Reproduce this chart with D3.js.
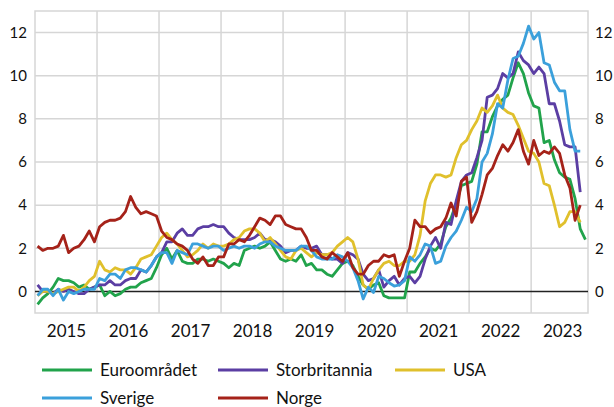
<!DOCTYPE html>
<html>
<head>
<meta charset="utf-8">
<script src="https://cdn.jsdelivr.net/npm/d3@7/dist/d3.min.js"></script>
<style>
  body { margin: 0; background: #fff; }
  svg { display: block; font-family: Lato, 'Open Sans', sans-serif; }
</style>
</head>
<body>
<div class="canvas"></div>
<script>
// monthly, Jan 2015 onwards (12-month change, per cent)
const yearLabels = ['2015','2016','2017','2018','2019','2020','2021','2022','2023'];
const yTicks = [0, 2, 4, 6, 8, 10, 12];

const euro = [
  -0.6,-0.3,-0.1,0.2,0.6,0.5,0.5,0.4,0.2,0.3,0.1,0.2,
  0.3,-0.2,0.0,-0.2,-0.1,0.1,0.2,0.2,0.4,0.5,0.6,1.1,
  1.7,2.0,1.5,1.9,1.4,1.3,1.3,1.5,1.5,1.4,1.5,1.4,
  1.3,1.1,1.3,1.2,1.9,2.0,2.1,2.0,2.1,2.3,1.9,1.5,
  1.4,1.5,1.4,1.7,1.2,1.3,1.0,1.0,0.8,0.7,1.0,1.3,
  1.4,1.2,0.7,0.3,0.1,0.3,0.4,-0.2,-0.3,-0.3,-0.3,-0.3,
  0.9,0.9,1.3,1.6,2.0,1.9,2.2,3.0,3.4,4.1,4.9,5.0,
  5.1,5.9,7.4,7.4,8.1,8.6,8.9,9.1,9.9,10.6,10.1,9.2,
  8.6,8.5,6.9,7.0,6.1,5.5,5.3,5.2,4.3,2.9,2.4
];
const uk = [
  0.3,0.0,0.0,-0.1,0.1,0.0,0.1,0.0,-0.1,-0.1,0.1,0.2,
  0.3,0.3,0.5,0.3,0.3,0.5,0.6,0.6,1.0,0.9,1.2,1.6,
  1.8,2.3,2.3,2.7,2.9,2.6,2.6,2.9,3.0,3.0,3.1,3.0,
  3.0,2.7,2.5,2.4,2.4,2.4,2.5,2.7,2.4,2.4,2.3,2.1,
  1.8,1.9,1.9,2.1,2.0,2.0,2.1,1.7,1.7,1.5,1.5,1.3,
  1.8,1.7,1.5,0.8,0.5,0.6,1.0,0.2,0.5,0.7,0.3,0.6,
  0.7,0.4,0.7,1.5,2.1,2.5,2.0,3.2,3.1,4.2,5.1,5.4,
  5.5,6.2,7.0,9.0,9.1,9.4,10.1,9.9,10.1,11.1,10.7,10.5,
  10.1,10.4,10.1,8.7,8.7,7.9,6.8,6.7,6.7,4.6
];
const usa = [
  -0.2,0.0,0.0,-0.1,0.0,0.1,0.2,0.2,0.0,0.2,0.5,0.7,
  1.4,1.0,0.9,1.1,1.0,1.0,0.8,1.1,1.5,1.6,1.7,2.1,
  2.5,2.7,2.4,2.2,1.9,1.6,1.7,1.9,2.2,2.0,2.2,2.1,
  2.1,2.2,2.4,2.5,2.8,2.9,2.9,2.7,2.3,2.5,2.2,1.9,
  1.6,1.5,1.9,2.0,1.8,1.6,1.8,1.7,1.7,1.8,2.1,2.3,
  2.5,2.3,1.5,0.3,0.1,0.6,1.0,1.3,1.4,1.2,1.2,1.4,
  1.4,1.7,2.6,4.2,5.0,5.4,5.4,5.3,5.4,6.2,6.8,7.0,
  7.5,7.9,8.5,8.3,8.6,9.1,8.5,8.3,8.2,7.7,7.1,6.5,
  6.4,6.0,5.0,4.9,4.0,3.0,3.2,3.7,3.7,3.2
];
const sverige = [
  -0.2,0.1,0.1,-0.2,0.1,-0.4,0.0,-0.1,0.0,0.1,0.1,0.1,
  0.6,0.5,0.8,0.8,0.6,1.0,1.1,1.1,1.0,0.9,1.2,1.6,
  1.8,1.8,1.3,1.9,1.8,1.7,2.2,2.2,2.1,2.0,2.1,2.1,
  1.9,2.0,2.1,2.0,2.1,2.1,2.0,2.2,2.3,2.3,2.1,2.0,
  1.9,1.9,1.9,2.1,2.1,1.9,1.6,1.5,1.5,1.5,1.7,1.6,
  1.4,1.1,0.5,-0.35,0.2,-0.05,0.7,0.6,0.4,0.25,0.3,0.5,
  1.6,1.4,1.7,2.2,2.1,1.3,1.4,2.1,2.5,2.8,3.3,3.9,
  3.7,4.3,6.0,6.4,7.3,8.7,8.5,9.8,10.8,10.9,11.5,12.3,
  11.7,12.0,10.6,10.5,9.7,9.3,9.3,7.5,6.5,6.5
];
const norge = [
  2.1,1.9,2.0,2.0,2.1,2.6,1.8,2.0,2.1,2.4,2.8,2.3,
  3.0,3.2,3.3,3.3,3.4,3.7,4.4,3.9,3.6,3.7,3.6,3.5,
  2.8,2.5,2.4,2.2,2.1,1.9,1.5,1.3,1.6,1.2,1.2,1.6,
  1.6,2.2,2.2,2.4,2.3,2.6,3.0,3.4,3.3,3.1,3.5,3.5,
  3.1,3.0,2.9,2.9,2.5,1.9,1.9,1.6,1.5,1.8,1.6,1.4,
  1.8,1.1,0.8,0.8,1.2,1.4,1.4,1.7,1.6,1.7,0.7,1.4,
  2.0,3.3,3.0,3.0,2.7,2.9,3.0,3.4,4.1,3.5,5.1,5.3,
  3.2,3.7,4.5,5.4,5.7,6.3,6.8,6.5,6.9,7.5,6.5,5.9,
  7.0,6.3,6.5,6.4,6.7,6.4,5.4,4.8,3.3,4.0
];

const seriesNames = ['Euroområdet', 'Storbritannia', 'USA', 'Sverige', 'Norge'];
const seriesColors = ['#21a34b', '#5b3ea3', '#e0c02c', '#3ba0db', '#a52219'];
const seriesValues = [euro, uk, usa, sverige, norge];

const width = 614, height = 407;
const margin = {top: 11, right: 26, bottom: 94, left: 35};

const svg = d3.select('.canvas')
  .append('svg')
    .attr('width', width)
    .attr('height', height);

const x = d3.scaleLinear()
  .domain([0, 107])
  .range([margin.left, width - margin.right]);

const y = d3.scaleLinear()
  .domain([-1, 13])
  .range([height - margin.bottom, margin.top]);

const gridColor = '#d6d6d6';

// horizontal grid
svg.append('g')
  .selectAll('line')
  .data([2, 4, 6, 8, 10, 12])
  .enter().append('line')
    .attr('x1', x(0)).attr('x2', x(107))
    .attr('y1', d => y(d)).attr('y2', d => y(d))
    .attr('stroke', gridColor)
    .attr('stroke-width', 1.5);

// vertical grid at start of each year
svg.append('g')
  .selectAll('line')
  .data(d3.range(12, 107, 12))
  .enter().append('line')
    .attr('x1', d => x(d)).attr('x2', d => x(d))
    .attr('y1', y(-1)).attr('y2', y(13))
    .attr('stroke', gridColor)
    .attr('stroke-width', 1.5);

// frame
svg.append('rect')
  .attr('x', x(0)).attr('y', y(13))
  .attr('width', x(107) - x(0))
  .attr('height', y(-1) - y(13))
  .attr('fill', 'none')
  .attr('stroke', gridColor)
  .attr('stroke-width', 1.5);

// zero line
svg.append('line')
  .attr('x1', x(0)).attr('x2', x(107))
  .attr('y1', y(0)).attr('y2', y(0))
  .attr('stroke', '#222')
  .attr('stroke-width', 1.5);

// axes
const leftAxis = d3.axisLeft(y).tickValues(yTicks).tickSize(0).tickPadding(8);
const rightAxis = d3.axisRight(y).tickValues(yTicks).tickSize(0).tickPadding(7);
const bottomAxis = d3.axisBottom(x)
  .tickValues(yearLabels.map((d, i) => i * 12 + 6))
  .tickFormat((d, i) => yearLabels[i])
  .tickSize(0).tickPadding(12);

const styleAxis = (g, size) => {
  g.select('.domain').remove();
  g.selectAll('text')
    .attr('font-family', 'Lato, sans-serif')
    .attr('font-size', size)
    .attr('fill', '#111');
};

svg.append('g').attr('transform', `translate(${x(0)},0)`).call(leftAxis).call(styleAxis, 15);
svg.append('g').attr('transform', `translate(${x(107)},0)`).call(rightAxis).call(styleAxis, 15);
svg.append('g').attr('transform', `translate(0,${y(-1)})`).call(bottomAxis).call(styleAxis, 17);

// lines
const line = d3.line()
  .x((d, i) => x(i + 0.5))
  .y(d => y(d));

svg.append('g')
  .selectAll('path')
  .data(seriesValues)
  .enter().append('path')
    .attr('d', line)
    .attr('fill', 'none')
    .attr('stroke', (d, i) => seriesColors[i])
    .attr('stroke-width', 2.8)
    .attr('stroke-linejoin', 'round');

// legend
const legendPos = [[42, 370], [218, 370], [395, 370], [42, 398], [218, 398]];
const legend = svg.append('g')
  .selectAll('g')
  .data(seriesNames)
  .enter().append('g')
    .attr('transform', (d, i) => `translate(${legendPos[i][0]},${legendPos[i][1]})`);

legend.append('line')
  .attr('x1', 0).attr('x2', 50)
  .attr('stroke', (d, i) => seriesColors[i])
  .attr('stroke-width', 2.8);

legend.append('text')
  .attr('x', 58)
  .attr('dy', '0.35em')
  .attr('font-size', 17)
  .attr('fill', '#111')
  .text(d => d);
</script>
</body>
</html>
